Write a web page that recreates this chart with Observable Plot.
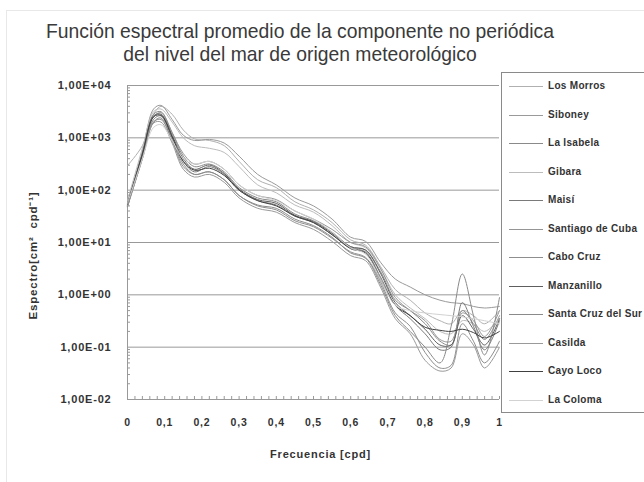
<!DOCTYPE html>
<html>
<head>
<meta charset="utf-8">
<script src="https://cdn.jsdelivr.net/npm/d3@7"></script>
<script src="https://cdn.jsdelivr.net/npm/@observablehq/plot@0.6"></script>
<style>
  body { margin: 0; background: #fff; }
  #wrap { position: relative; width: 644px; height: 482px; overflow: hidden; font-family: "Liberation Sans", Arial, sans-serif; }
  #frame { position: absolute; left: 6px; top: 10px; width: 700px; height: 600px; border-left: 1px solid #e8e8e8; border-top: 1px solid #e8e8e8; }
  .tline { position: absolute; left: 0; width: 600px; text-align: center; font-family: "Liberation Sans", Arial, sans-serif; font-size: 21px; line-height: 23px; color: #3a3a3a; transform: scaleX(0.92); transform-origin: 300px 0; white-space: nowrap; }
  #chart { position: absolute; left: 0; top: 0; }
  #chart svg text { font-weight: bold; letter-spacing: 0.8px; }
  #legend { position: absolute; left: 501px; top: 72px; width: 160px; height: 339px; border: 1px solid #8a8a8a; background: #fff; }
  .item { position: absolute; left: 0; height: 12px; width: 200px; }
  .swatch { position: absolute; left: 7px; top: 6px; width: 34px; height: 0; }
  .name { position: absolute; left: 46px; top: 0; font-size: 10px; font-weight: bold; color: #333; line-height: 12px; white-space: nowrap; letter-spacing: 0.3px; }
</style>
</head>
<body>
<div id="wrap">
  <div id="frame"></div>
  <div id="chart"></div>
  <div class="tline" style="top:19px">Función espectral promedio de la componente no periódica</div>
  <div class="tline" style="top:42px">del nivel del mar de origen meteorológico</div>
  <div id="legend"></div>
</div>
<script>
// Frequencies (cpd) at which each averaged spectrum is sampled
const frequency = [0, 0.04, 0.07, 0.09, 0.12, 0.15, 0.18, 0.22, 0.26, 0.3, 0.35, 0.4, 0.45, 0.5, 0.55, 0.6, 0.64, 0.68, 0.72, 0.76, 0.8, 0.84, 0.87, 0.9, 0.93, 0.96, 1.0];

// Spectral density (cm² cpd⁻¹) per station
const losMorros      = [295, 708, 2820, 3980, 2820, 1410, 955, 891, 708, 355, 158, 112, 60, 42, 24, 11.2, 8.9, 3.5, 1.26, 0.79, 0.45, 0.32, 0.28, 0.5, 0.4, 0.28, 0.5];
const siboney        = [55, 562, 3550, 4170, 2240, 1120, 891, 933, 794, 447, 200, 126, 71, 50, 28, 12.6, 10.5, 4.2, 2.0, 1.41, 1.0, 0.79, 0.71, 0.68, 0.6, 0.56, 0.6];
const laIsabela      = [50, 501, 2820, 3160, 1260, 447, 282, 316, 224, 112, 71, 60, 35, 26, 15.8, 8.3, 7.1, 2.8, 0.79, 0.5, 0.28, 0.13, 0.11, 0.5, 0.28, 0.14, 0.4];
const gibara         = [63, 631, 3160, 3550, 2000, 1000, 708, 631, 525, 282, 126, 89, 52, 38, 21, 10, 7.9, 3.2, 1.0, 0.56, 0.35, 0.2, 0.18, 0.32, 0.28, 0.2, 0.35];
const maisi          = [52, 447, 2240, 2630, 1000, 355, 224, 282, 200, 100, 63, 52, 32, 24, 14.1, 7.9, 6.6, 2.2, 0.63, 0.35, 0.18, 0.089, 0.1, 0.71, 0.25, 0.089, 0.32];
const santiagoDeCuba = [56, 501, 2510, 3020, 1260, 501, 316, 355, 251, 126, 79, 66, 40, 28, 17.8, 10, 8.3, 3.2, 0.89, 0.5, 0.32, 0.14, 0.13, 0.45, 0.32, 0.16, 0.5];
const caboCruz       = [50, 398, 2000, 2240, 891, 282, 200, 224, 158, 79, 50, 42, 26, 20, 12, 6.6, 5.2, 1.78, 0.45, 0.25, 0.079, 0.04, 0.045, 0.28, 0.13, 0.05, 0.13];
const manzanillo     = [52, 501, 2630, 2820, 1120, 398, 251, 302, 209, 105, 66, 56, 33, 25, 15, 8.3, 7.2, 2.6, 0.71, 0.4, 0.22, 0.11, 0.11, 0.4, 0.22, 0.11, 0.35];
const santaCruzSur   = [48, 398, 2000, 2400, 891, 316, 200, 224, 158, 79, 52, 45, 28, 21, 12.6, 6.3, 5.0, 1.58, 0.4, 0.2, 0.1, 0.05, 0.25, 2.5, 0.4, 0.071, 0.89];
const casilda        = [50, 417, 1910, 2000, 794, 251, 178, 200, 141, 71, 45, 38, 24, 17.8, 10.5, 5.6, 4.5, 1.41, 0.35, 0.18, 0.056, 0.035, 0.04, 0.18, 0.11, 0.04, 0.1];
const cayoLoco       = [55, 479, 2510, 2690, 1050, 355, 240, 263, 191, 100, 63, 50, 32, 24, 14.1, 7.6, 6.3, 2.0, 0.63, 0.4, 0.24, 0.21, 0.2, 0.22, 0.19, 0.15, 0.2];
const laColoma       = [56, 398, 1580, 1780, 891, 398, 316, 355, 251, 126, 79, 63, 40, 28, 15.8, 7.9, 6.0, 2.0, 0.63, 0.5, 0.45, 0.42, 0.4, 0.38, 0.35, 0.32, 0.28];

const stations = ["Los Morros", "Siboney", "La Isabela", "Gibara", "Maisí", "Santiago de Cuba", "Cabo Cruz", "Manzanillo", "Santa Cruz del Sur", "Casilda", "Cayo Loco", "La Coloma"];
const stationSeries = [losMorros, siboney, laIsabela, gibara, maisi, santiagoDeCuba, caboCruz, manzanillo, santaCruzSur, casilda, cayoLoco, laColoma];
const stationColors = ["#b0b0b0", "#9a9a9a", "#8a8a8a", "#bcbcbc", "#7a7a7a", "#959595", "#8e8e8e", "#5e5e5e", "#8a8a8a", "#9a9a9a", "#404040", "#d2d2d2"];

// Axis ticks and their labels
const yTicks = [0.01, 0.1, 1, 10, 100, 1000, 10000];
const yTickLabels = ["1,00E-02", "1,00E-01", "1,00E+00", "1,00E+01", "1,00E+02", "1,00E+03", "1,00E+04"];
const xTicks = [0, 0.1, 0.2, 0.3, 0.4, 0.5, 0.6, 0.7, 0.8, 0.9, 1];
const xTickLabels = ["0", "0,1", "0,2", "0,3", "0,4", "0,5", "0,6", "0,7", "0,8", "0,9", "1"];
const xTitle = "Frecuencia [cpd]";
const yTitle = "Espectro[cm²  cpd⁻¹]";

const yMinor = d3.range(0, 6).flatMap(k => d3.range(2, 10).map(m => m * yTicks[k]));
const xMinor = d3.range(0, 51).map(i => i / 50);

const rows = stations.flatMap((name, s) =>
  frequency.map((f, i) => ({station: name, f, s: stationSeries[s][i]}))
);

const chart = Plot.plot({
  width: 644,
  height: 482,
  marginLeft: 127,
  marginRight: 145,
  marginTop: 85,
  marginBottom: 83,
  style: {fontFamily: "'Liberation Sans', Arial, sans-serif", fontSize: "10px", color: "#333", background: "transparent"},
  x: {domain: [0, 1]},
  y: {type: "log", domain: [0.01, 10000]},
  color: {domain: stations, range: stationColors},
  marks: [
    Plot.gridY(yTicks, {stroke: "#999", strokeOpacity: 1}),
    Plot.axisY(yMinor, {tickSize: 3, dx: 3, tickFormat: () => "", label: null, stroke: "#999"}),
    Plot.axisX(xMinor, {tickSize: 3, dy: -3, tickFormat: () => "", label: null, stroke: "#999"}),
    Plot.axisY(yTicks, {
      tickSize: 0, tickPadding: 16, label: null, fontSize: 11,
      tickFormat: d => yTickLabels[yTicks.indexOf(d)]
    }),
    Plot.axisX(xTicks, {
      tickSize: 0, tickPadding: 19, label: null, fontSize: 10.5,
      tickFormat: d => xTickLabels[xTicks.indexOf(d)]
    }),
    Plot.text([xTitle], {frameAnchor: "bottom", dx: 7, dy: 58, fontSize: 11, fill: "#333"}),
    Plot.text([yTitle], {frameAnchor: "left", textAnchor: "middle", dx: -94, dy: 13, rotate: -90, fontSize: 11.5, fill: "#333"}),
    Plot.ruleX([0], {stroke: "#999"}),
    Plot.ruleY([0.01], {stroke: "#999"}),
    Plot.line(rows, {x: "f", y: "s", z: "station", stroke: "station", strokeWidth: 1, curve: "catmull-rom"})
  ]
});
document.getElementById("chart").appendChild(chart);

// Station legend
const legend = d3.select("#legend");
stations.forEach((name, i) => {
  const item = legend.append("div").attr("class", "item").style("top", (7 + i * 28.5) + "px");
  item.append("div").attr("class", "swatch").style("border-top", `1px solid ${stationColors[i]}`);
  item.append("div").attr("class", "name").text(name);
});
</script>
</body>
</html>
